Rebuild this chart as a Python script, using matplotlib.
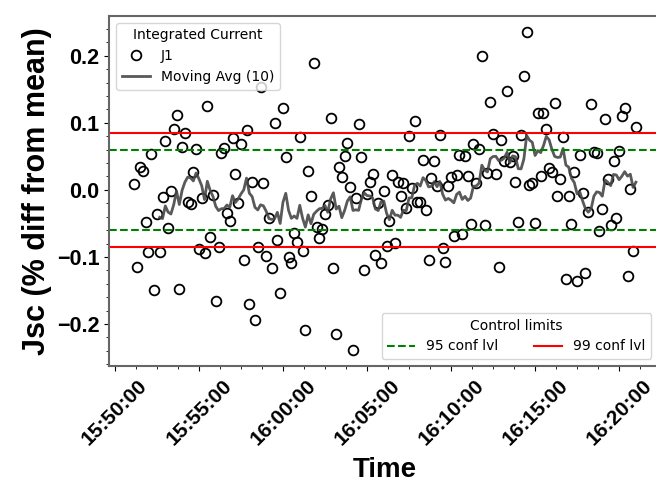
import matplotlib
matplotlib.use("Agg")
import matplotlib.pyplot as plt
import matplotlib.dates as mdates
from matplotlib.ticker import AutoMinorLocator
import pandas as pd

plt.rcParams['font.family'] = ['Liberation Sans', 'DejaVu Sans']

# one reading every 10 s starting 15:51:10
start_time = '2023-01-01 15:51:10'
step = '10s'
jsc = [0.009, -0.115, 0.034, 0.028, -0.048, -0.093, 0.054, -0.149, -0.036, -0.093,
       -0.010, 0.073, -0.057, -0.001, 0.091, 0.112, -0.148, 0.064, 0.085, -0.018,
       -0.021, 0.027, 0.061, -0.088, -0.012, -0.094, 0.125, -0.070, -0.007, -0.166,
       -0.085, 0.055, 0.063, -0.034, -0.046, 0.078, 0.024, -0.019, 0.069, -0.104,
       0.090, -0.170, 0.012, -0.194, -0.085, 0.154, 0.010, -0.099, -0.042, -0.116,
       0.100, -0.075, -0.154, 0.122, 0.049, -0.100, -0.109, -0.064, -0.078, 0.079,
       -0.091, -0.209, 0.028, -0.009, 0.190, -0.055, -0.072, -0.058, -0.036, -0.022,
       0.107, -0.116, -0.215, 0.034, 0.019, 0.051, 0.070, 0.004, -0.239, -0.012,
       0.099, 0.049, -0.119, -0.006, 0.012, 0.024, -0.097, -0.019, -0.109, -0.001,
       -0.084, -0.046, 0.022, -0.079, 0.012, -0.009, 0.010, -0.027, 0.081, 0.003,
       0.103, -0.018, -0.018, 0.045, -0.030, -0.104, 0.018, 0.043, 0.006, 0.082,
       -0.087, -0.107, 0.006, 0.019, -0.069, 0.022, 0.052, -0.066, 0.051, 0.021,
       -0.051, 0.069, 0.010, 0.061, 0.200, -0.052, 0.025, 0.131, 0.084, 0.024,
       -0.115, 0.075, 0.043, 0.148, 0.042, 0.051, 0.012, -0.048, 0.082, 0.170,
       0.236, 0.007, 0.010, -0.049, 0.115, 0.021, 0.115, 0.091, 0.033, 0.027,
       0.130, -0.009, 0.016, 0.079, -0.133, -0.009, -0.051, 0.027, -0.136, 0.052,
       -0.004, -0.124, -0.033, 0.128, 0.057, 0.055, -0.061, -0.028, 0.106, 0.016,
       -0.052, 0.043, -0.042, 0.058, 0.110, 0.122, -0.128, 0.001, -0.091, 0.094]
window = 10
limit_95 = 0.06
limit_99 = 0.085

times = pd.date_range(start_time, periods=len(jsc), freq=step)
moving_avg = pd.Series(jsc).rolling(window).mean()

fig = plt.figure(figsize=(6.56, 4.91), dpi=100)
ax = fig.add_axes([0.1668, 0.2546, 0.8408, 0.7132])

p1, = ax.plot(times, jsc, 'o', mfc='none', mec='black', ms=7, mew=1.3, label='J1')
p2, = ax.plot(times, moving_avg, color='0.28', lw=2, alpha=0.9, label='Moving Avg (10)')
l95 = ax.axhline(limit_95, color='green', ls='--', lw=1.5, label='95 conf lvl')
ax.axhline(-limit_95, color='green', ls='--', lw=1.5)
l99 = ax.axhline(limit_99, color='red', lw=1.5, label='99 conf lvl')
ax.axhline(-limit_99, color='red', lw=1.5)

ax.xaxis.set_major_locator(mdates.MinuteLocator(byminute=range(0, 60, 5)))
ax.xaxis.set_major_formatter(mdates.DateFormatter('%H:%M:%S'))
ax.xaxis.set_minor_locator(AutoMinorLocator(4))
ax.yaxis.set_minor_locator(AutoMinorLocator(5))
for lab in ax.get_xticklabels():
    lab.set_rotation(45)
    lab.set_fontweight('bold')
    lab.set_fontsize(15)
for lab in ax.get_yticklabels():
    lab.set_fontweight('bold')
    lab.set_fontsize(15.5)

for s in ax.spines.values():
    s.set_color('0.4')
    s.set_linewidth(1.5)

ax.set_xlabel('Time', fontsize=20, fontweight='bold', labelpad=6)
ax.set_ylabel('Jsc (% diff from mean)', fontsize=22, fontweight='bold')

leg_font = {'family': 'DejaVu Sans', 'size': 10}
leg1 = ax.legend(handles=[p1, p2], title='Integrated Current', loc='upper left', prop=leg_font)
leg1.get_title().set_family('DejaVu Sans')
ax.add_artist(leg1)
leg2 = ax.legend(handles=[l95, l99], title='Control limits', loc='lower right', ncol=2, prop=leg_font,
                 columnspacing=2.6, bbox_to_anchor=(0.995, 0.0))
leg2.get_title().set_family('DejaVu Sans')

fig.savefig('out.png', dpi=100)
